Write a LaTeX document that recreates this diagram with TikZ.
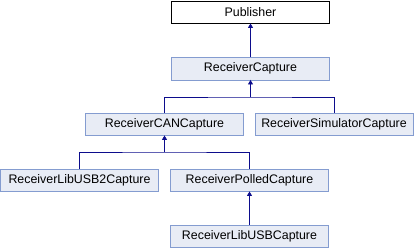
\documentclass[tikz,border=0pt]{standalone}
\usepackage{fontspec}
\setmainfont{Liberation Sans}
\usepackage{xcolor}
\usetikzlibrary{arrows.meta,positioning}
\definecolor{classfill}{RGB}{232, 236, 245}
\definecolor{classdraw}{RGB}{132, 156, 208}
\definecolor{linkblue}{RGB}{12, 12, 140}

\begin{document}
\begin{tikzpicture}[
    x=1pt, y=-1pt,
    every node/.style={align=center, font=\fontsize{12.4}{14}\selectfont},
    cls/.style={rectangle, minimum width=158pt, minimum height=22.5pt, inner sep=0pt, text centered, draw=classdraw, fill=classfill},
    base/.style={rectangle, minimum width=158pt, minimum height=22.5pt, inner sep=0pt, text centered, draw=black, fill=white},
    inherit/.style={draw=linkblue, thick, -{Triangle[length=4.5pt,width=5pt]}},
    link/.style={draw=linkblue, thick}
]
\useasboundingbox (0,0) rectangle (415,248);

% Root class
\node[base] (publisher) at (250.5,12) {Publisher};

% Derived classes
\node[cls] (recvCapture) at (250.5,68.5) {ReceiverCapture};
\node[cls] (canCapture) at (164.5,124) {ReceiverCANCapture};
\node[cls] (simCapture) at (334,124) {ReceiverSimulatorCapture};
\node[cls] (libUsb2Capture) at (79.5,180) {ReceiverLibUSB2Capture};
\node[cls] (polledCapture) at (249.5,180) {ReceiverPolledCapture};
\node[cls] (libUsbCapture) at (249.5,236) {ReceiverLibUSBCapture};

% Branch points
\coordinate (fork1) at (250.5,97);
\coordinate (fork2) at (164.5,152);

% Inheritance
\draw[inherit] (recvCapture) -- (publisher);
\draw[inherit] (fork1) -- (recvCapture);
\draw[link] (canCapture.north) |- (fork1) -| (simCapture.north);
\draw[inherit] (fork2) -- (canCapture);
\draw[link] (libUsb2Capture.north) |- (fork2) -| (polledCapture.north);
\draw[inherit] (libUsbCapture) -- (polledCapture);

\end{tikzpicture}
\end{document}
